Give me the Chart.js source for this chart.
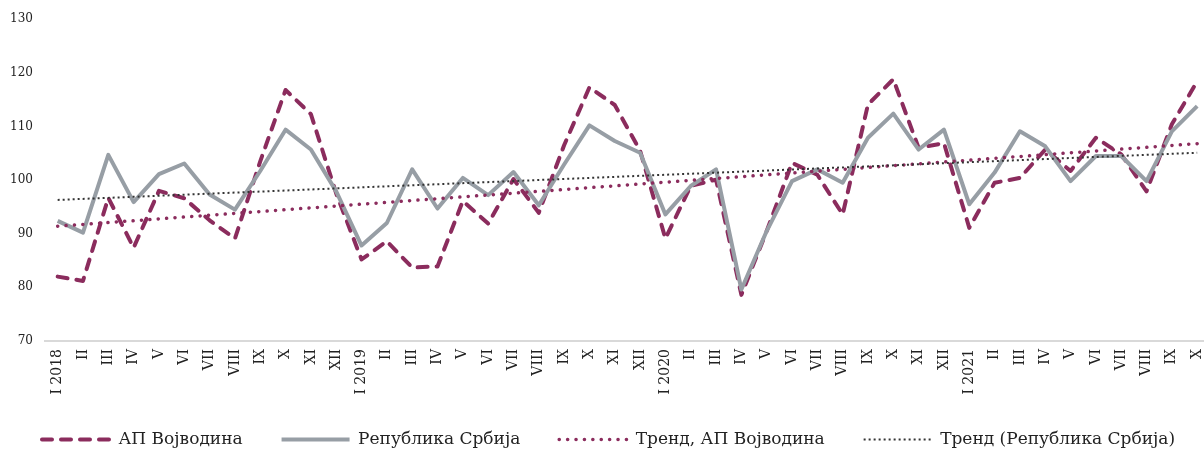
<!DOCTYPE html>
<html>
<head>
<meta charset="utf-8">
<script src="https://cdn.jsdelivr.net/npm/chart.js@4.4.0/dist/chart.umd.min.js"></script>
<style>
html,body{margin:0;padding:0;overflow:hidden;background:#fff;width:1204px;height:450px;}
#wrap{position:absolute;left:0;top:0;width:1222px;height:458px;}
</style>
</head>
<body>
<div id="wrap"><canvas id="c"></canvas></div>
<script>
const categories = [
  "I 2018","II","III","IV","V","VI","VII","VIII","IX","X","XI","XII",
  "I 2019","II","III","IV","V","VI","VII","VIII","IX","X","XI","XII",
  "I 2020","II","III","IV","V","VI","VII","VIII","IX","X","XI","XII",
  "I 2021","II","III","IV","V","VI","VII","VIII","IX","X"
];
const vojvodina = [
  82.0, 81.2, 96.7, 87.4, 98.0, 96.6, 92.5, 89.1, 103.5, 116.8, 112.3, 97.5,
  85.2, 88.6, 83.7, 83.9, 96.1, 91.9, 100.2, 93.9, 106.5, 117.3, 114.0, 105.5,
  89.1, 98.9, 100.1, 78.6, 90.5, 103.2, 101.0, 93.6, 114.1, 118.8, 106.0, 106.9,
  91.1, 99.5, 100.4, 105.7, 101.7, 107.9, 104.8, 97.9, 110.4, 118.4
];
const srbija = [
  92.4, 90.2, 104.7, 95.9, 101.1, 103.1, 97.3, 94.5, 101.7, 109.4, 105.7, 97.9,
  87.8, 92.0, 102.0, 94.7, 100.4, 97.2, 101.5, 95.3, 102.9, 110.2, 107.3, 105.1,
  93.6, 98.9, 102.0, 79.6, 90.5, 99.8, 102.0, 99.5, 107.9, 112.4, 105.7, 109.4,
  95.5, 101.4, 109.1, 106.3, 99.8, 104.5, 104.5, 99.8, 109.1, 113.8
];
// trend lines: values read at first and last month, straight line between
const trendVojvodina = [91.4].concat(new Array(44).fill(null), [106.8]);
const trendSrbija = [96.3].concat(new Array(44).fill(null), [105.1]);
const yTicks = [70, 80, 90, 100, 110, 120, 130];

const MAROON = '#8b2c5d';
const GRAY = '#979ea5';

Chart.defaults.font.family = "'DejaVu Serif', serif";
Chart.defaults.color = '#222';

const legendShift = {
  id: 'legendShift',
  afterLayout(chart) {
    const l = chart.legend;
    if (l) { l.left += 8; l.right += 8; }
  }
};

new Chart(document.getElementById('c'), {
  type: 'line',
  plugins: [legendShift],
  data: {
    labels: categories,
    datasets: [
      {label: 'АП Војводина', data: vojvodina, borderColor: MAROON, backgroundColor: MAROON,
       borderWidth: 4, borderDash: [10, 9], borderCapStyle: 'round', borderJoinStyle: 'round',
       pointRadius: 0, tension: 0, order: 3},
      {label: 'Република Србија', data: srbija, borderColor: GRAY, backgroundColor: GRAY,
       borderWidth: 4, borderDash: [], borderCapStyle: 'butt', borderJoinStyle: 'round',
       pointRadius: 0, tension: 0, order: 2},
      {label: 'Тренд, АП Војводина', data: trendVojvodina, borderColor: MAROON, backgroundColor: MAROON,
       borderWidth: 3.5, borderDash: [0.1, 8.3], borderCapStyle: 'round',
       pointRadius: 0, spanGaps: true, order: 1},
      {label: 'Тренд (Република Србија)', data: trendSrbija, borderColor: '#333', backgroundColor: '#333',
       borderWidth: 2, borderDash: [2, 3], borderCapStyle: 'butt',
       pointRadius: 0, spanGaps: true, order: 0}
    ]
  },
  options: {
    responsive: true,
    maintainAspectRatio: false,
    animation: false,
    layout: {autoPadding: false, padding: {top: 18, left: 10, right: 2, bottom: 0}},
    plugins: {
      tooltip: {enabled: false},
      legend: {
        position: 'bottom',
        labels: {
          usePointStyle: true,
          pointStyle: 'line',
          pointStyleWidth: 68,
          padding: 10,
          color: '#222',
          font: {size: 17},
          sort: (a, b) => a.datasetIndex - b.datasetIndex,
          generateLabels: (chart) => {
            const items = Chart.defaults.plugins.legend.labels.generateLabels(chart);
            items.forEach(it => {
              const ds = chart.data.datasets[it.datasetIndex];
              it.text = it.text + '\u2003\u2002\u2009';
              it.pointStyle = 'line';
              it.lineDash = ds.borderDash;
              it.lineWidth = ds.borderWidth;
              it.lineCap = ds.borderCapStyle;
              it.strokeStyle = ds.borderColor;
            });
            return items;
          }
        }
      }
    },
    scales: {
      x: {
        offset: true,
        grid: {display: false, drawTicks: false},
        border: {display: true, color: '#d9d9d9', width: 2},
        ticks: {autoSkip: false, maxRotation: 90, minRotation: 90, padding: 8,
                font: {size: 14}, color: '#222'},
        afterFit: (s) => { s.height = 80; }
      },
      y: {
        min: 70, max: 130,
        afterBuildTicks: (s) => { s.ticks = yTicks.map(v => ({value: v})); },
        grid: {display: false, drawTicks: false},
        border: {display: false},
        ticks: {padding: 12, font: {size: 12}, color: '#222'},
        afterFit: (s) => { s.width = 35; }
      }
    }
  }
});
</script>
</body>
</html>
